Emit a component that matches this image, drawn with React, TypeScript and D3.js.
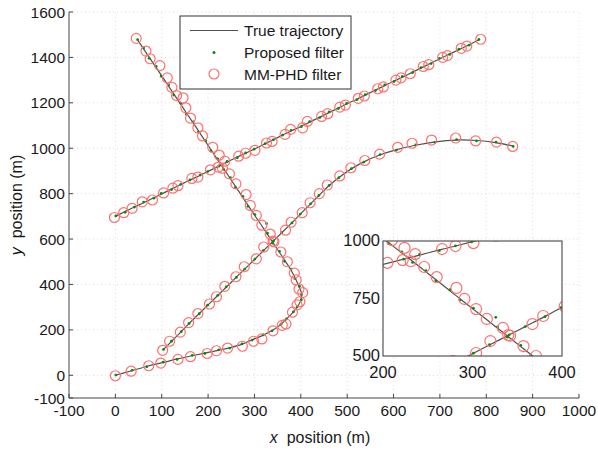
import React from "react";
import * as d3 from "d3";

type P = [number, number];

const xTicks = [-100, 0, 100, 200, 300, 400, 500, 600, 700, 800, 900, 1000];
const yTicks = [-100, 0, 200, 400, 600, 800, 1000, 1200, 1400, 1600];
const insetXTicks = [200, 300, 400];
const insetYTicks = [500, 750, 1000];
const legendLabels = ["True trajectory", "Proposed filter", "MM-PHD filter"];

// Target 1: straight line lower-left to upper-right
const trueT1: P[] = [[0,700],[20,720],[40,740],[62,761],[82,781],[100,799],[120,819],[140,839],[162,861],[182,880],[200,898],[222,920],[242,940],[262,960],[280,977],[300,997],[322,1019],[342,1039],[360,1057],[380,1077],[400,1096],[420,1116],[440,1136],[462,1158],[480,1176],[500,1196],[520,1215],[540,1235],[560,1255],[582,1277],[600,1295],[620,1314],[640,1334],[660,1354],[680,1374],[700,1394],[720,1414],[742,1435],[762,1455],[785,1478]];
const propT1: P[] = [[1,702],[21,718],[41,741],[61,763],[83,780],[99,801],[121,818],[141,841],[161,860],[183,882],[199,897],[223,921],[241,942],[263,958],[281,979],[299,996],[323,1020],[341,1037],[361,1058],[379,1079],[401,1095],[419,1117],[441,1135],[461,1160],[481,1175],[499,1198],[521,1214],[539,1236],[561,1254],[581,1279],[601,1294],[619,1316],[641,1333],[659,1355],[681,1373],[699,1396],[721,1413],[741,1436],[763,1454],[784,1479]];
const phdT1: P[] = [[-2,695],[18,716],[36,735],[58,764],[80,772],[104,803],[124,824],[135,835],[165,867],[178,873],[205,905],[222,917],[236,943],[266,965],[281,978],[301,991],[326,1023],[338,1030],[366,1061],[378,1083],[404,1090],[414,1118],[445,1140],[458,1152],[484,1181],[496,1190],[524,1220],[537,1230],[566,1262],[578,1270],[605,1300],[616,1310],[636,1328],[664,1360],[676,1368],[706,1400],[716,1408],[746,1440],[758,1450],[788,1480]];

// Target 2: from top-left down, turning back to origin
const trueT2: P[] = [[47,1480],[60,1440],[74,1398],[87,1358],[100,1319],[114,1276],[127,1236],[140,1196],[154,1153],[167,1114],[180,1074],[194,1031],[207,991],[220,951],[234,909],[247,869],[260,829],[274,786],[287,746],[300,706],[314,664],[327,624],[340,584],[353,544],[366,504],[378,466],[388,428],[396,390],[402,358],[400,330],[393,303],[383,277],[370,250],[356,222],[339,198],[318,176],[296,157],[272,136],[248,122],[222,110],[194,98],[165,86],[134,72],[102,56],[69,40],[35,20],[0,0]];
const propT2: P[] = [[48,1478],[61,1442],[73,1396],[88,1360],[99,1317],[115,1278],[126,1234],[141,1198],[153,1151],[168,1116],[179,1072],[195,1033],[206,989],[221,953],[233,907],[248,871],[259,827],[275,788],[286,744],[301,708],[326,668],[328,626],[339,582],[354,546],[365,502],[379,468],[387,426],[397,392],[401,356],[401,332],[392,301],[384,279],[369,248],[357,224],[338,196],[319,178],[295,155],[273,138],[247,120],[223,112],[193,96],[166,88],[133,70],[103,58],[68,38],[36,22],[1,1]];
const phdT2: P[] = [[45,1484],[66,1428],[75,1394],[96,1364],[112,1310],[122,1268],[132,1232],[146,1222],[152,1178],[162,1133],[178,1090],[188,1054],[210,1004],[224,970],[231,912],[246,887],[260,843],[282,796],[291,748],[304,704],[316,661],[334,622],[340,591],[357,543],[371,500],[386,450],[390,420],[396,380],[404,364],[398,324],[392,310],[382,278],[368,226],[360,220],[340,196],[316,160],[298,150],[274,128],[242,120],[218,108],[198,96],[162,82],[135,70],[98,54],[72,42],[34,18],[0,-2]];

// Target 3: curve from (100,110) to (857,1010)
const trueT3: P[] = [[103,112],[122,151],[141,190],[160,230],[180,270],[200,310],[220,350],[240,390],[260,430],[280,470],[300,510],[320,550],[340,590],[360,630],[380,670],[400,712],[420,753],[440,794],[460,834],[483,872],[508,908],[537,941],[570,970],[607,994],[647,1013],[690,1028],[735,1036],[780,1034],[820,1025],[857,1010]];
const propT3: P[] = [[104,114],[121,150],[142,192],[159,228],[181,271],[199,309],[221,352],[239,389],[261,431],[279,468],[301,512],[319,549],[341,592],[359,628],[381,671],[399,710],[421,755],[439,792],[461,836],[482,870],[509,910],[536,939],[571,972],[606,992],[648,1015],[689,1026],[736,1038],[779,1032],[821,1027],[858,1008]];
const phdT3: P[] = [[102,110],[117,150],[140,190],[158,232],[178,272],[203,314],[218,346],[236,392],[260,434],[278,478],[304,513],[320,565],[342,588],[367,639],[379,674],[403,716],[420,760],[440,800],[457,838],[484,878],[508,914],[538,946],[570,974],[609,1004],[640,1022],[682,1036],[734,1045],[777,1032],[822,1027],[857,1008]];

const trueTracks = [trueT1, trueT2, trueT3];
const propTracks = [propT1, propT2, propT3];
const phdTracks = [phdT1, phdT2, phdT3];

const FONT = "'Liberation Sans', Arial, Helvetica, sans-serif";
const LINE_COLOR = "#505050";
const DOT_COLOR = "#0a8a0a";
const CIRC_COLOR = "#ff7070";
const AXIS_COLOR = "#444";
const TEXT_COLOR = "#1a1a1a";

export default function App() {
  const W = 598, H = 450;
  const x = d3.scaleLinear().domain([-100, 1000]).range([69, 579]);
  const y = d3.scaleLinear().domain([-100, 1600]).range([398, 12]);
  const ix = d3.scaleLinear().domain([200, 400]).range([383, 562]);
  const iy = d3.scaleLinear().domain([500, 1000]).range([356, 241]);

  const mainLine = d3.line<P>().x(d => x(d[0])).y(d => y(d[1])).curve(d3.curveCatmullRom);
  const insetLine = d3.line<P>().x(d => ix(d[0])).y(d => iy(d[1])).curve(d3.curveCatmullRom);

  const [x0, x1] = x.range();
  const [y0, y1] = y.range();

  return (
    <svg width={W} height={H} style={{ position: "absolute", left: 0, top: 0, background: "#fff" }} fontFamily={FONT}>
      <defs>
        <clipPath id="insetClip">
          <rect x={ix.range()[0]} y={iy.range()[1]} width={ix.range()[1] - ix.range()[0]} height={iy.range()[0] - iy.range()[1]} />
        </clipPath>
      </defs>
      {/* grid */}
      <g stroke="#d4d4d4" strokeWidth={0.8} strokeDasharray="1,3">
        {xTicks.filter(t => t > -100).map(t => (
          <line key={"gx" + t} x1={x(t)} x2={x(t)} y1={y0} y2={y1} />
        ))}
        {yTicks.filter(t => t > -100).map(t => (
          <line key={"gy" + t} x1={x0} x2={x1} y1={y(t)} y2={y(t)} />
        ))}
      </g>
      {/* axes */}
      <g stroke={AXIS_COLOR} strokeWidth={1}>
        <line x1={x0} x2={x0} y1={y0} y2={y1} />
        <line x1={x0} x2={x1} y1={y0} y2={y0} />
        {xTicks.map(t => (
          <line key={"tx" + t} x1={x(t)} x2={x(t)} y1={y0} y2={y0 - 4} />
        ))}
        {yTicks.map(t => (
          <line key={"ty" + t} x1={x0} x2={x0 + 4} y1={y(t)} y2={y(t)} />
        ))}
      </g>
      <g fontSize={15.5} fill={TEXT_COLOR}>
        {xTicks.map(t => (
          <text key={"lx" + t} x={x(t)} y={y0 + 18} textAnchor="middle">{t}</text>
        ))}
        {yTicks.map(t => (
          <text key={"ly" + t} x={x0 - 4} y={y(t) + 5.5} textAnchor="end">{t}</text>
        ))}
      </g>
      <text x={320} y={443} fontSize={16} fill={TEXT_COLOR} textAnchor="middle">
        <tspan fontStyle="italic">x</tspan>
        <tspan>{"\u00a0 position (m)"}</tspan>
      </text>
      <text transform={`translate(22,${(y0 + y1) / 2}) rotate(-90)`} fontSize={16} fill={TEXT_COLOR} textAnchor="middle">
        <tspan fontStyle="italic">y</tspan>
        <tspan>{"\u00a0 position (m)"}</tspan>
      </text>

      {/* main data */}
      <g fill="none" stroke={LINE_COLOR} strokeWidth={1.2}>
        {trueTracks.map((t, i) => <path key={"m" + i} d={mainLine(t) || ""} />)}
      </g>
      <g fill={DOT_COLOR}>
        {propTracks.flatMap((t, i) => t.map((p, j) => <circle key={`p${i}-${j}`} cx={x(p[0])} cy={y(p[1])} r={1.4} />))}
      </g>
      <g fill="none" stroke={CIRC_COLOR} strokeWidth={1.2}>
        {phdTracks.flatMap((t, i) => t.map((p, j) => <circle key={`c${i}-${j}`} cx={x(p[0])} cy={y(p[1])} r={5} />))}
      </g>

      {/* legend */}
      <g>
        <rect x={180} y={16} width={171} height={73} fill="#fff" stroke="#333" strokeWidth={1} />
        <line x1={190} x2={238} y1={30.5} y2={30.5} stroke={LINE_COLOR} strokeWidth={1.2} />
        <circle cx={214} cy={52.5} r={1.5} fill={DOT_COLOR} />
        <circle cx={214} cy={74} r={5} fill="none" stroke={CIRC_COLOR} strokeWidth={1.2} />
        {legendLabels.map((l, i) => (
          <text key={l} x={244} y={36 + i * 21.8} fontSize={15.5} fill={TEXT_COLOR}>{l}</text>
        ))}
      </g>

      {/* inset */}
      <g>
        <rect x={ix.range()[0]} y={iy.range()[1]} width={ix.range()[1] - ix.range()[0]} height={iy.range()[0] - iy.range()[1]} fill="#fff" />
        <g clipPath="url(#insetClip)">
          <g fill="none" stroke={LINE_COLOR} strokeWidth={1.2}>
            {trueTracks.map((t, i) => <path key={"i" + i} d={insetLine(t) || ""} />)}
          </g>
          <g fill={DOT_COLOR}>
            {propTracks.flatMap((t, i) => t.map((p, j) => <circle key={`ip${i}-${j}`} cx={ix(p[0])} cy={iy(p[1])} r={1.4} />))}
          </g>
          <g fill="none" stroke={CIRC_COLOR} strokeWidth={1.2}>
            {phdTracks.flatMap((t, i) => t.map((p, j) => <circle key={`ic${i}-${j}`} cx={ix(p[0])} cy={iy(p[1])} r={5.5} />))}
          </g>
        </g>
        <rect x={ix.range()[0]} y={iy.range()[1]} width={ix.range()[1] - ix.range()[0]} height={iy.range()[0] - iy.range()[1]} fill="none" stroke="#555" strokeWidth={1.2} />
        <g fontSize={16.5} fill={TEXT_COLOR}>
          {insetXTicks.map(t => (
            <text key={"ix" + t} x={ix(t)} y={iy.range()[0] + 22} textAnchor="middle">{t}</text>
          ))}
          {insetYTicks.map(t => (
            <text key={"iy" + t} x={ix.range()[0] - 3} y={iy(t) + 5} textAnchor="end">{t}</text>
          ))}
        </g>
      </g>
    </svg>
  );
}
